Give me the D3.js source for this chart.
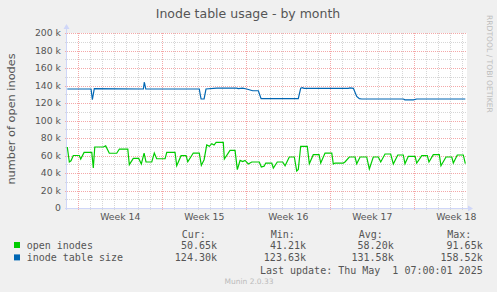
<!DOCTYPE html>
<html><head><meta charset="utf-8">
<script src="https://cdn.jsdelivr.net/npm/d3@7"></script>
<style>
html,body{margin:0;padding:0;background:#F0F0F0;}
svg{display:block;}
text{font-family:"DejaVu Sans",sans-serif;}
.mono{font-family:"DejaVu Sans Mono",monospace;white-space:pre;}
</style></head>
<body><svg id="chart" width="497" height="292"></svg>
<script>
// ---- data ----
const title = "Inode table usage - by month";
const yAxisLabel = "number of open inodes";
const weekLabels = ["Week 14","Week 15","Week 16","Week 17","Week 18"];
const weekStartDay = [0, 7, 14, 21, 28];           // days after Mon 2025-03-31
const yTickValues = [0,20000,40000,60000,80000,100000,120000,140000,160000,180000,200000];
const yTickLabels = ["0","20 k","40 k","60 k","80 k","100 k","120 k","140 k","160 k","180 k","200 k"];

// open inodes (days after week-14 start, thousands)
const openDays = [-0.92,-0.75,-0.61,-0.42,0.08,0.20,0.48,1.12,1.25,1.37,2.08,2.28,2.58,3.20,3.42,4.12,4.25,4.58,5.03,5.25,5.48,5.64,6.12,6.33,6.53,7.23,7.37,8.06,8.20,8.56,8.98,9.12,9.58,10.08,10.25,10.48,10.70,10.92,11.12,11.31,11.48,12.08,12.17,12.64,13.06,13.25,13.48,13.70,13.89,14.17,14.45,15.08,15.25,15.48,15.62,16.12,16.25,16.58,17.03,17.23,17.58,18.00,18.20,18.33,18.53,19.08,19.25,19.58,20.06,20.20,20.56,21.12,21.25,21.39,22.08,22.22,22.58,23.06,23.20,23.48,24.03,24.25,24.58,25.00,25.20,25.56,26.03,26.25,26.62,27.08,27.22,27.50,28.06,28.20,28.62,29.08,29.22,29.58,30.08,30.22,30.64,31.12,31.25,31.58,32.08,32.25];
const openVals = [69.7,52.6,54,60,60,56,63.5,63.5,45.7,69.7,69.7,71,62.6,62.6,67.4,67.4,49.5,56.7,56.7,50.3,62.8,52.6,52.6,62.8,56.3,56.3,63.6,63.6,48.3,59.8,59.8,52.9,62.8,62.8,48.7,55.2,72,70.5,73.5,72,75,75,56,65.8,65.8,43.8,54.4,53,54.4,50.3,52.6,52.6,46.9,47.8,51.4,51.4,45.7,52.6,52.6,48.3,58.3,58.3,42.3,44,70.5,70.5,50.6,60.9,60.9,51.4,62.8,62.8,50.3,51.4,51.4,52.6,58.3,58.3,50.6,58.3,58.3,44.6,58.3,58.3,52.6,61.7,61.7,50.3,60.6,60.6,50.6,59,59,51.4,59.8,59.8,52.6,60.9,60.9,48.3,58.3,58.3,51.4,60.6,60.6,50.6];

// inode table size
const tableDays = [-0.92,1.06,1.17,1.25,1.33,5.42,5.50,5.62,10.08,10.18,10.23,10.48,10.64,11.53,13.20,13.33,13.70,14.03,14.53,15.00,15.23,18.33,18.53,18.67,18.81,22.50,22.64,22.92,23.20,23.42,23.62,27.08,27.22,27.92,28.20,32.25];
const tableVals = [136,136,123.8,130,136.5,136,144,136,136,128,124.6,124.6,136,137,137,136.5,137,136,134,134,124.9,124.9,137,137.5,136.8,136.8,137.3,136.8,127.5,124.9,124.6,124.6,123.6,123.6,124.6,124.6];

const seriesNames = ["open inodes","inode table size"];
const seriesColors = ["#00CC00","#0066B3"];
const curVals = ["50.65k","124.30k"];
const minVals = ["41.21k","123.63k"];
const avgVals = ["58.20k","131.58k"];
const maxVals = ["91.65k","158.52k"];
const statHeaders = ["Cur:","Min:","Avg:","Max:"];
const lastUpdate = "Last update: Thu May  1 07:00:01 2025";
const watermark = "RRDTOOL / TOBI OETIKER";
const footer = "Munin 2.0.33";

// ---- drawing ----
const svg = d3.select("#chart");
const L = 67, R = 467, T = 33, B = 208;
const dayMs = 86400000;
const t0 = Date.UTC(2025, 2, 31);
const toDate = d => new Date(t0 + d * dayMs);
const x = d3.scaleUtc().domain([toDate(-11.33/12), toDate(-11.33/12 + 400/12)]).range([L, R]);
const y = d3.scaleLinear().domain([0, 200000]).range([B, T]);
const ry = v => Math.round(y(v)) + 0.5;
const rx = d => Math.round(x(d)) + 0.5;

svg.append("rect").attr("width",497).attr("height",292).attr("fill","#F0F0F0");
svg.append("rect").attr("x",L).attr("y",T).attr("width",R-L).attr("height",B-T).attr("fill","#FFFFFF");

const minorCol = "#d6d6d6", majorCol = "#f4a8a8";
const grid = svg.append("g");
// minor horizontal (every 10k)
d3.range(10000, 200001, 20000).forEach(v => {
  grid.append("line").attr("x1",L-2).attr("x2",R).attr("y1",ry(v)).attr("y2",ry(v))
    .attr("stroke",minorCol).attr("stroke-dasharray","1,1");
});
// minor vertical (daily)
const days = d3.utcDay.range(x.domain()[0], x.domain()[1]);
days.forEach(dt => {
  const xx = Math.round(x(dt)) + 0.5;
  if (xx <= L + 1) return;
  grid.append("line").attr("x1",xx).attr("x2",xx).attr("y1",T).attr("y2",B+2)
    .attr("stroke",minorCol).attr("stroke-dasharray","1,1");
});
// major horizontal
yTickValues.forEach(v => {
  if (v === 0) return;
  grid.append("line").attr("x1",L-2).attr("x2",R).attr("y1",ry(v)).attr("y2",ry(v))
    .attr("stroke",majorCol).attr("stroke-dasharray","1,1");
});
// major vertical (weeks)
weekStartDay.forEach(d => {
  const xx = rx(toDate(d));
  grid.append("line").attr("x1",xx).attr("x2",xx).attr("y1",T).attr("y2",B+2)
    .attr("stroke",majorCol).attr("stroke-dasharray","1,1");
});

// axes
const axisCol = "#CFD6F8";
svg.append("line").attr("x1",L-2).attr("x2",R+1).attr("y1",B+0.5).attr("y2",B+0.5).attr("stroke",axisCol);
svg.append("line").attr("x1",L-0.5).attr("x2",L-0.5).attr("y1",B+2).attr("y2",T-4).attr("stroke",axisCol);
svg.append("path").attr("d",`M${R+1},${B-2.5}L${R+6},${B+0.5}L${R+1},${B+3.5}Z`).attr("fill",axisCol);
svg.append("path").attr("d",`M${L-3.5},${T-4}L${L-0.5},${T-9}L${L+2.5},${T-4}Z`).attr("fill",axisCol);

// y tick labels
svg.append("g").selectAll("text").data(yTickValues).join("text")
  .attr("x",61).attr("y",v=>y(v)+3.3).attr("text-anchor","end")
  .attr("font-size",9.3).attr("fill","#555").text((v,i)=>yTickLabels[i]);
// x labels
svg.append("g").selectAll("text").data(weekLabels).join("text")
  .attr("x",(w,i)=>x(toDate(weekStartDay[i]+3.5))).attr("y",219.5).attr("text-anchor","middle")
  .attr("font-size",9.3).attr("fill","#555").text(w=>w);

// lines
const line = d3.line().x(d=>x(toDate(d[0]))).y(d=>y(d[1]*1000));
svg.append("path").datum(tableDays.map((d,i)=>[d,tableVals[i]]))
  .attr("d",line).attr("fill","none").attr("stroke",seriesColors[1]).attr("stroke-width",1.2);
svg.append("path").datum(openDays.map((d,i)=>[d,openVals[i]]))
  .attr("d",line).attr("fill","none").attr("stroke",seriesColors[0]).attr("stroke-width",1.2);

// title & labels
svg.append("text").attr("x",248).attr("y",18).attr("text-anchor","middle")
  .attr("font-size",12.5).attr("fill","#555").text(title);
svg.append("text").attr("transform","translate(15,119) rotate(-90)").attr("text-anchor","middle")
  .attr("font-size",11.3).attr("fill","#555").text(yAxisLabel);
svg.append("text").attr("transform","translate(487,15) rotate(90)").attr("text-anchor","start")
  .attr("font-size",7.6).attr("fill","#bdbdbd").text(watermark);

// legend
const legend = svg.append("g").attr("class","mono").attr("font-size",10).attr("fill","#555");
const headerX = [181.7, 270.7, 358.7, 447.3];
const valueX = [217, 306, 393.7, 482.7];
statHeaders.forEach((h,i)=>legend.append("text").attr("class","mono").attr("x",headerX[i]).attr("y",237.5).text(h));
const rowsY = [249, 261.4];
seriesNames.forEach((n,r)=>{
  svg.append("rect").attr("x",14).attr("y",rowsY[r]-7).attr("width",6).attr("height",6).attr("fill",seriesColors[r]);
  legend.append("text").attr("class","mono").attr("x",26.7).attr("y",rowsY[r]).text(n);
  [curVals,minVals,avgVals,maxVals].forEach((arr,i)=>{
    legend.append("text").attr("class","mono").attr("x",valueX[i]).attr("y",rowsY[r]).attr("text-anchor","end").text(arr[r]);
  });
});
legend.append("text").attr("class","mono").attr("x",482.7).attr("y",273.5).attr("text-anchor","end").text(lastUpdate);
svg.append("text").attr("x",249).attr("y",284).attr("text-anchor","middle")
  .attr("font-size",7.5).attr("fill","#bbb").text(footer);
</script></body></html>
